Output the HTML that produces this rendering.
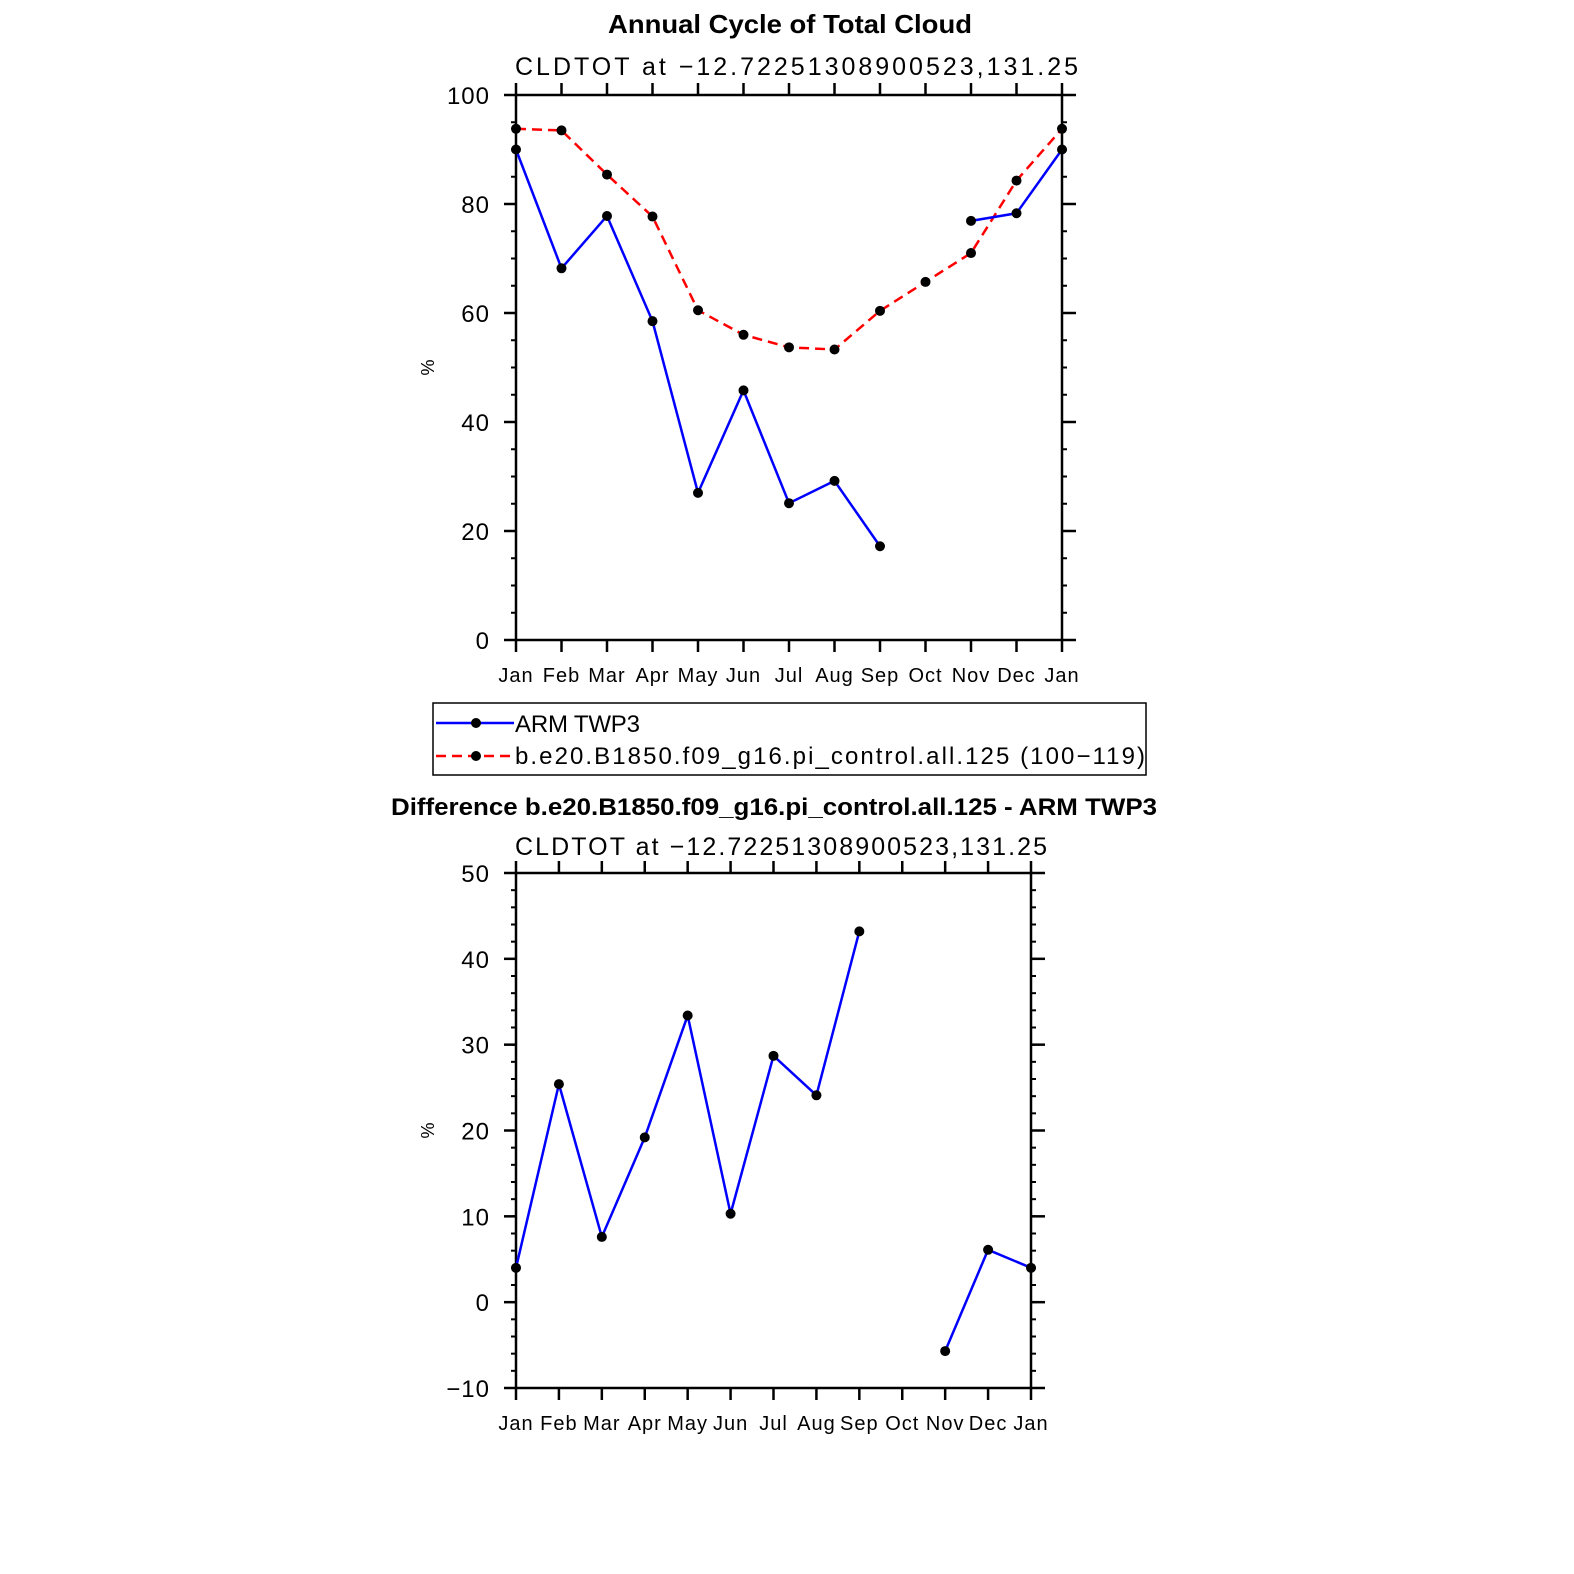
<!DOCTYPE html>
<html><head><meta charset="utf-8"><style>
html,body{margin:0;padding:0;background:#fff;overflow:hidden;width:1574px;height:1574px;}
svg{display:block;font-family:"Liberation Sans",sans-serif;}
</style></head><body>
<svg id="chart" width="1574" height="1574" viewBox="0 0 1574 1574">
<text x="608" y="33" textLength="364" lengthAdjust="spacingAndGlyphs" font-size="26" font-weight="bold">Annual Cycle of Total Cloud</text>
<text x="515" y="75" textLength="563" lengthAdjust="spacing" font-size="25">CLDTOT at −12.72251308900523,131.25</text>
<text x="391" y="815" textLength="766" lengthAdjust="spacingAndGlyphs" font-size="24" font-weight="bold">Difference b.e20.B1850.f09_g16.pi_control.all.125 - ARM TWP3</text>
<text x="515" y="855" textLength="532" lengthAdjust="spacing" font-size="25">CLDTOT at −12.72251308900523,131.25</text>
<g id="top"></g>
<g id="bot"></g>
<g>
<rect x="433" y="703" width="713" height="72" fill="none" stroke="#000" stroke-width="1.5"/>
<g>
<line x1="436" y1="723" x2="514" y2="723" stroke="#00f" stroke-width="2.5"/>
<circle cx="476" cy="723" r="5" fill="#000"/>
<text x="515" y="732" textLength="125" lengthAdjust="spacing" font-size="24">ARM TWP3</text></g>
<g>
<line x1="436" y1="756" x2="514" y2="756" stroke="#f00" stroke-width="2.5" stroke-dasharray="10,6"/>
<circle cx="476" cy="756" r="5" fill="#000"/>
<text x="515" y="764" textLength="630" lengthAdjust="spacing" font-size="24">b.e20.B1850.f09_g16.pi_control.all.125 (100−119)</text></g>
</g>
</svg>
<script>
const months = ["Jan","Feb","Mar","Apr","May","Jun","Jul","Aug","Sep","Oct","Nov","Dec","Jan"];
const armValues = [90, 68.2, 77.8, 58.5, 27, 45.8, 25.1, 29.2, 17.2, null, 76.9, 78.3, 90];
const modelValues = [93.8, 93.5, 85.4, 77.7, 60.5, 56, 53.7, 53.3, 60.4, 65.7, 71, 84.3, 93.8];
const diffValues = [4, 25.4, 7.6, 19.2, 33.4, 10.3, 28.7, 24.1, 43.2, null, -5.7, 6.1, 4];
const topYTicks = [0, 20, 40, 60, 80, 100];
const botYTicks = [-10, 0, 10, 20, 30, 40, 50];
const NS = "http://www.w3.org/2000/svg";
function mk(parent, tag, attrs){const e=document.createElementNS(NS,tag);for(const k in attrs)e.setAttribute(k,attrs[k]);parent.appendChild(e);return e;}

function drawPlot(g, box, ymin, ymax, yticks, minorStep, series){
  const xs = i => box.x0 + (box.x1-box.x0)*i/(months.length-1);
  const ys = v => box.y1 - (box.y1-box.y0)*(v-ymin)/(ymax-ymin);
  const fr = mk(g,'rect',{x:box.x0,y:box.y0,width:box.x1-box.x0,height:box.y1-box.y0,fill:'none',stroke:'#000','stroke-width':2.5});
  
  
  months.forEach((m,i)=>{
    const x=xs(i);
    mk(g,'line',{x1:x,y1:box.y1,x2:x,y2:box.y1+12,stroke:'#000','stroke-width':2.5});
    mk(g,'line',{x1:x,y1:box.y0,x2:x,y2:box.y0-12,stroke:'#000','stroke-width':2.5});
    const t=mk(g,'text',{x:x,y:box.y1+42,'text-anchor':'middle','font-size':20,'letter-spacing':1});
    t.textContent=m;
    
    
  });
  for(let v=ymin; v<=ymax+1e-9; v+=minorStep){
    const y=ys(v);
    mk(g,'line',{x1:box.x0,y1:y,x2:box.x0-5,y2:y,stroke:'#000','stroke-width':2});
    mk(g,'line',{x1:box.x1,y1:y,x2:box.x1+5,y2:y,stroke:'#000','stroke-width':2});
  }
  yticks.forEach(v=>{
    const y=ys(v);
    mk(g,'line',{x1:box.x0,y1:y,x2:box.x0-12,y2:y,stroke:'#000','stroke-width':2.5});
    mk(g,'line',{x1:box.x1,y1:y,x2:box.x1+14,y2:y,stroke:'#000','stroke-width':2.5});
    const t=mk(g,'text',{x:box.x0-26,y:y+9,'text-anchor':'end','font-size':24,'letter-spacing':1});
    t.textContent=(v<0?'−'+Math.abs(v):String(v));
    
    
  });
  const yl=mk(g,'text',{x:0,y:0,'text-anchor':'middle','font-size':18,transform:`translate(${box.x0-82},${(box.y0+box.y1)/2}) rotate(-90)`});
  yl.textContent='%';
  
  
  series.forEach(s=>{
    const sg=mk(g,'g',{});
    
    
    let d='', pen=false;
    s.values.forEach((v,i)=>{
      if(v===null){pen=false;return;}
      d+=(pen?'L':'M')+xs(i)+' '+ys(v)+' '; pen=true;
    });
    const p=mk(sg,'path',{d:d,fill:'none',stroke:s.color,'stroke-width':2.5});
    if(s.dash) p.setAttribute('stroke-dasharray',s.dash);
    s.values.forEach((v,i)=>{
      if(v===null)return;
      const c=mk(sg,'circle',{cx:xs(i),cy:ys(v),r:5,fill:'#000'});
      
      
    });
  });
}
drawPlot(document.getElementById('top'),{x0:516,x1:1062,y0:95,y1:640},0,100,topYTicks,5,[
  {name:'model-series-line',values:modelValues,color:'#f00',dash:'10,6'},
  {name:'arm-series-line',values:armValues,color:'#00f'}
]);
drawPlot(document.getElementById('bot'),{x0:516,x1:1031,y0:873,y1:1388},-10,50,botYTicks,2,[
  {name:'difference-series-line',values:diffValues,color:'#00f'}
]);
</script>
</body></html>
